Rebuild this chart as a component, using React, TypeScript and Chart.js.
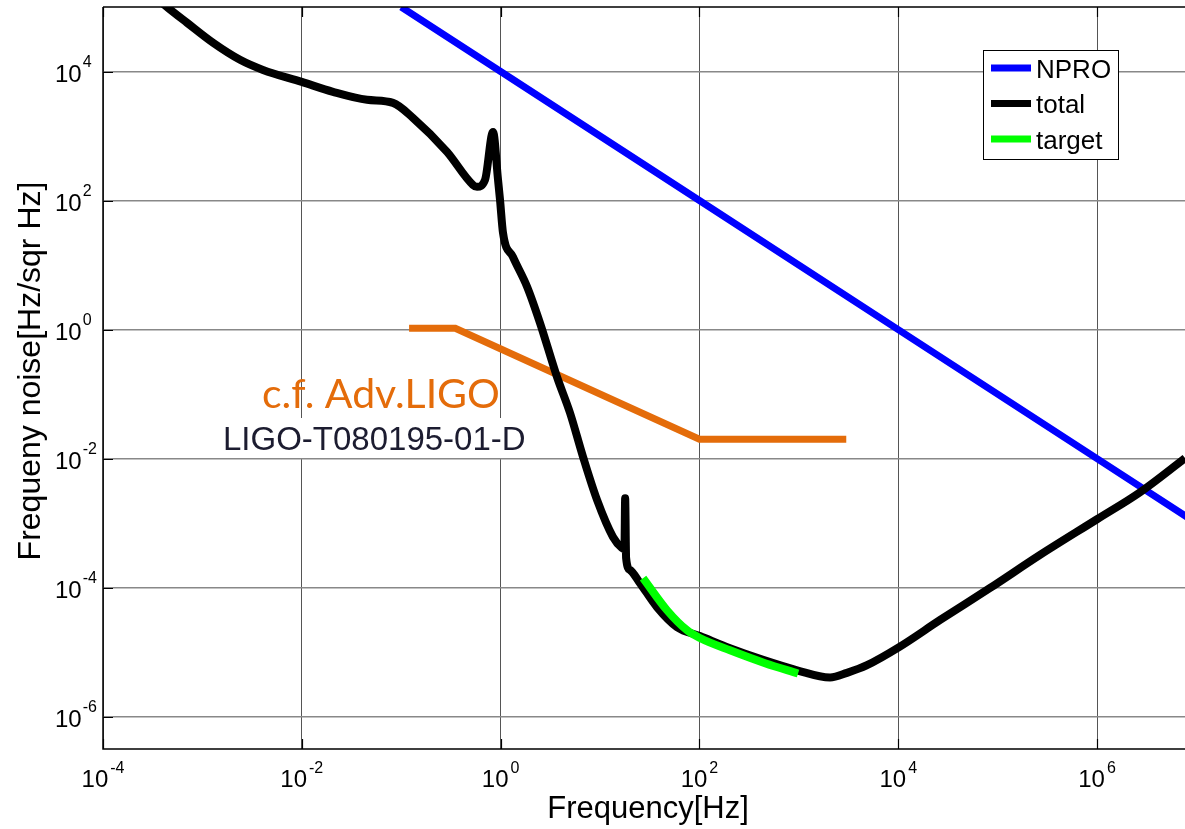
import React, { useEffect, useRef } from "react";
import { Chart, registerables } from "chart.js";

Chart.register(...registerables);

// ---- Tick definitions ----
const xTickValues = [1e-4, 1e-2, 1, 1e2, 1e4, 1e6];
const xTickExponents = ["-4", "-2", "0", "2", "4", "6"];
const yTickValues = [1e-6, 1e-4, 1e-2, 1, 1e2, 1e4];
const yTickExponents = ["-6", "-4", "-2", "0", "2", "4"];

// ---- Series: NPRO ----
const nproFreq = [0.1, 1, 100, 1e4, 1e6, 1e7];
const nproNoise = [1e5, 1e4, 100, 1, 1e-2, 1e-3];

// ---- Series: total ----
const totalFreq = [
  3.5e-4, 4.51e-4, 7.0e-4, 1.28e-3, 2.39e-3, 4.07e-3, 1.0e-2, 2.06e-2, 4.53e-2, 8.26e-2,
  0.1315, 0.289, 0.527, 0.579, 0.697, 0.839, 0.942, 0.986, 1.057, 1.33,
  1.85, 2.49, 3.69, 4.99, 6.75, 9.33, 13.5, 16.6, 17.6, 17.9,
  18.3, 20.0, 25.2, 37.4, 59.6, 101, 203, 437, 960, 2060,
  3050, 4850, 1.02e4, 2.64e4, 8.4e4, 2.67e5, 1e6, 2.71e6, 7.67e6, 1e7,
];
const totalNoise = [
  1.35e5, 9.7e4, 5.7e4, 2.79e4, 1.52e4, 1.06e4, 6.9e3, 4.84e3, 3.64e3, 3.27e3,
  1.91e3, 569, 175, 163, 209, 1160, 209, 103, 31.5, 13.4,
  4.59, 1.27, 0.185, 0.0512, 0.0106, 2.29e-3, 6.11e-4, 4.13e-4, 3.98e-4, 2.44e-3,
  2.88e-4, 1.88e-4, 1.18e-4, 5.0e-5, 2.45e-5, 1.78e-5, 1.15e-5, 7.6e-6, 5.25e-6, 4.07e-6,
  4.79e-6, 6.3e-6, 1.2e-5, 3.16e-5, 9.9e-5, 3.22e-4, 1.15e-3, 3.02e-3, 0.0102, 0.0141,
];

// ---- Series: target ----
const targetFreq = [27.1, 47.2, 75.0, 101, 203, 457, 982];
const targetNoise = [1.41e-4, 4.47e-5, 2.19e-5, 1.66e-5, 1.07e-5, 6.76e-6, 4.68e-6];

// ---- Series: Adv. LIGO reference ----
const advLigoFreq = [0.12, 0.35, 100, 3000];
const advLigoNoise = [1.05, 1.05, 0.02, 0.02];

const legendLabels = ["NPRO", "total", "target"];
const xTitle = "Frequency[Hz]";
const yTitle = "Frequeny noise[Hz/sqr Hz]";
const noteTitle = "c.f. Adv.LIGO";
const noteRef = "LIGO-T080195-01-D";

const toPoints = (xs: number[], ys: number[]) => xs.map((x, i) => ({ x, y: ys[i] }));

const decorPlugin = {
  id: "decor",
  afterDraw(chart: any) {
    const { ctx, chartArea: ca, scales } = chart;
    const xs = scales.x;
    const ys = scales.y;
    const base = "'Liberation Sans', Arial, sans-serif";
    ctx.save();

    // axis lines (top, left, bottom)
    ctx.strokeStyle = "#000";
    ctx.lineWidth = 1.5;
    ctx.beginPath();
    ctx.moveTo(ca.left, ca.top);
    ctx.lineTo(ca.right, ca.top);
    ctx.moveTo(ca.left, ca.top);
    ctx.lineTo(ca.left, ca.bottom);
    ctx.lineTo(ca.right, ca.bottom);
    ctx.stroke();

    // tick marks
    ctx.lineWidth = 1.2;
    ctx.beginPath();
    xTickValues.forEach((v) => {
      const px = Math.round(xs.getPixelForValue(v)) + 0.5;
      ctx.moveTo(px, ca.bottom);
      ctx.lineTo(px, ca.bottom - 10);
      ctx.moveTo(px, ca.top);
      ctx.lineTo(px, ca.top + 10);
    });
    yTickValues.forEach((v) => {
      const py = Math.round(ys.getPixelForValue(v)) + 0.5;
      ctx.moveTo(ca.left, py);
      ctx.lineTo(ca.left + 10, py);
    });
    ctx.stroke();

    // tick labels
    ctx.fillStyle = "#000";
    ctx.textBaseline = "alphabetic";
    ctx.textAlign = "left";
    const mainFont = `24px ${base}`;
    const supFont = `16px ${base}`;
    xTickValues.forEach((v, i) => {
      const px = xs.getPixelForValue(v);
      ctx.font = mainFont;
      const w1 = ctx.measureText("10").width;
      ctx.font = supFont;
      const w2 = ctx.measureText(xTickExponents[i]).width;
      const start = px - (w1 + 2 + w2) / 2;
      ctx.font = mainFont;
      ctx.fillText("10", start, 787);
      ctx.font = supFont;
      ctx.fillText(xTickExponents[i], start + w1 + 2, 773);
    });
    yTickValues.forEach((v, i) => {
      const py = ys.getPixelForValue(v);
      ctx.font = mainFont;
      const w1 = ctx.measureText("10").width;
      ctx.fillText("10", 55, py + 10);
      ctx.font = supFont;
      ctx.fillText(yTickExponents[i], 55 + w1 + 1, py - 5);
    });

    // axis titles
    ctx.font = `31px ${base}`;
    ctx.textAlign = "center";
    ctx.fillText(xTitle, 648, 818);
    ctx.save();
    ctx.translate(40, 371);
    ctx.rotate(-Math.PI / 2);
    ctx.font = `32px ${base}`;
    ctx.fillText(yTitle, 0, 0);
    ctx.restore();

    // annotation
    ctx.fillStyle = "#fff";
    ctx.fillRect(208, 418, 332, 40);
    ctx.textAlign = "left";
    ctx.fillStyle = "#E46C0A";
    ctx.font = `41px Lato, 'Open Sans', sans-serif`;
    ctx.fillText(noteTitle, 262, 408);
    ctx.fillStyle = "#1c1c30";
    ctx.font = `33px ${base}`;
    ctx.fillText(noteRef, 223, 450);

    // legend
    const lx = 983.5, ly = 50.5, lw = 135, lh = 109;
    ctx.fillStyle = "#fff";
    ctx.fillRect(lx, ly, lw, lh);
    ctx.strokeStyle = "#000";
    ctx.lineWidth = 1;
    ctx.strokeRect(lx, ly, lw, lh);
    ctx.font = `26px ${base}`;
    legendLabels.forEach((label, i) => {
      const ds = chart.data.datasets.find((d: any) => d.label === label);
      const cy = 68 + 35.5 * i;
      ctx.strokeStyle = ds ? ds.borderColor : "#000";
      ctx.lineWidth = 7;
      ctx.beginPath();
      ctx.moveTo(991, cy);
      ctx.lineTo(1031, cy);
      ctx.stroke();
      ctx.fillStyle = "#000";
      ctx.fillText(label, 1036, cy + 9.5);
    });

    ctx.restore();
  },
};

export default function App() {
  const canvasRef = useRef<HTMLCanvasElement | null>(null);

  useEffect(() => {
    document.body.style.margin = "0";
    const canvas = canvasRef.current;
    if (!canvas) return;
    const chart = new Chart(canvas, {
      type: "scatter",
      data: {
        datasets: [
          {
            label: "NPRO",
            data: toPoints(nproFreq, nproNoise),
            borderColor: "#0000FF",
            backgroundColor: "#0000FF",
            borderWidth: 7,
            showLine: true,
            pointRadius: 0,
            order: 2,
          },
          {
            label: "total",
            data: toPoints(totalFreq, totalNoise),
            borderColor: "#000000",
            backgroundColor: "#000000",
            borderWidth: 8,
            showLine: true,
            pointRadius: 0,
            cubicInterpolationMode: "monotone",
            borderJoinStyle: "round",
            order: 1,
          },
          {
            label: "target",
            data: toPoints(targetFreq, targetNoise),
            borderColor: "#00FF00",
            backgroundColor: "#00FF00",
            borderWidth: 8,
            showLine: true,
            pointRadius: 0,
            cubicInterpolationMode: "monotone",
            order: 0,
          },
          {
            label: "Adv.LIGO",
            data: toPoints(advLigoFreq, advLigoNoise),
            borderColor: "#E46C0A",
            backgroundColor: "#E46C0A",
            borderWidth: 7,
            showLine: true,
            pointRadius: 0,
            order: 3,
          },
        ],
      },
      options: {
        responsive: false,
        animation: false,
        events: [],
        layout: { padding: { top: 7, right: 0, bottom: 0, left: 0 } },
        plugins: {
          legend: { display: false },
          tooltip: { enabled: false },
          title: { display: false },
        },
        scales: {
          x: {
            type: "logarithmic",
            min: 1e-4,
            max: 7.67e6,
            afterBuildTicks: (scale: any) => {
              scale.ticks = xTickValues.map((value) => ({ value }));
            },
            afterFit: (scale: any) => {
              scale.height = 80;
            },
            ticks: { display: false },
            border: { display: false },
            grid: { color: "#555555", lineWidth: 1, drawTicks: false },
          },
          y: {
            type: "logarithmic",
            min: 3.16e-7,
            max: 1e5,
            afterBuildTicks: (scale: any) => {
              scale.ticks = yTickValues.map((value) => ({ value }));
            },
            afterFit: (scale: any) => {
              scale.width = 103;
            },
            ticks: { display: false },
            border: { display: false },
            grid: { color: "#888888", lineWidth: 1.5, drawTicks: false },
          },
        },
      },
      plugins: [decorPlugin],
    });
    return () => chart.destroy();
  }, []);

  return (
    <div style={{ position: "fixed", left: 0, top: 0, width: 1185, height: 829, background: "#fff" }}>
      <canvas ref={canvasRef} width={1185} height={829} style={{ display: "block" }} />
    </div>
  );
}
